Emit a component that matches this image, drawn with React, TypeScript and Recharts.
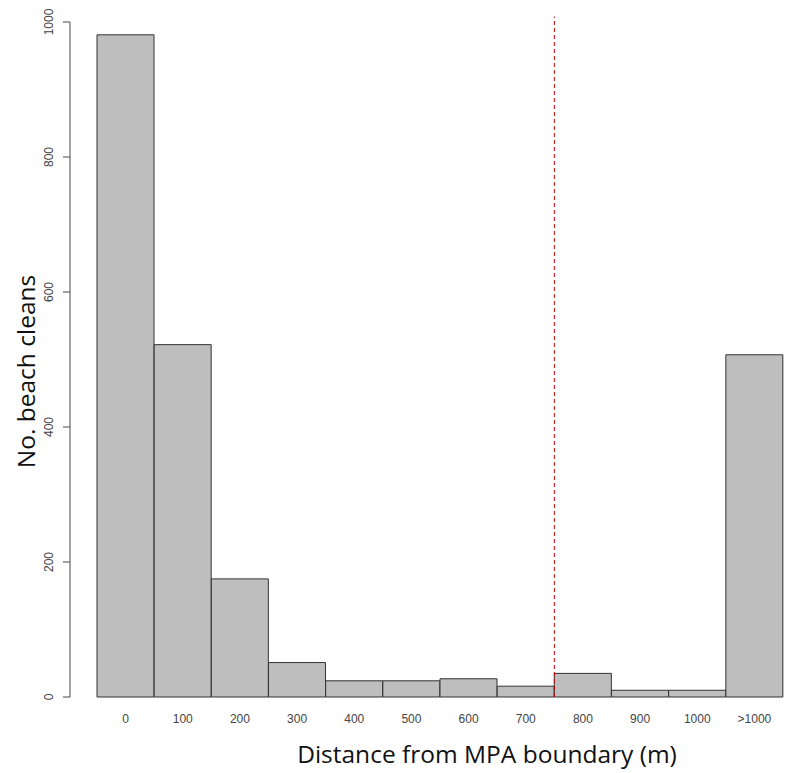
import React from 'react';
import { BarChart, Bar, XAxis, YAxis, ReferenceLine } from 'recharts';

const distanceBins = ['0', '100', '200', '300', '400', '500', '600', '700', '800', '900', '1000', '>1000'];
const beachCleans = [981, 522, 175, 51, 24, 24, 27, 16, 35, 10, 10, 507];
const yTicks = [0, 200, 400, 600, 800, 1000];
const boundaryBin = '800'; // dashed line drawn at the start of this bin
const boundaryLineTop = 1008;

const xTitle = 'Distance from MPA boundary (m)';
const yTitle = 'No. beach cleans';

const data = distanceBins.map((bin, i) => ({ bin, count: beachCleans[i] }));

const TICK_FONT = "'Liberation Sans', Arial, sans-serif";
const TITLE_FONT = "'Open Sans', 'Noto Sans', sans-serif";

const YTick = (props: any) => {
  const { x, y, payload } = props;
  const bx = x - 10;
  return (
    <text
      x={bx}
      y={y}
      transform={`rotate(-90 ${bx} ${y})`}
      textAnchor="middle"
      fontSize={12}
      fill="#444"
      fontFamily={TICK_FONT}
    >
      {payload.value}
    </text>
  );
};

export default function App() {
  return (
    <div style={{ position: 'absolute', left: 0, top: 0, width: 805, height: 773, background: '#fff' }}>
      <BarChart
        width={805}
        height={773}
        data={data}
        margin={{ top: 22, right: 22, bottom: 0, left: 0 }}
        barCategoryGap={0}
        barGap={0}
      >
        <XAxis
          dataKey="bin"
          type="category"
          axisLine={false}
          tickLine={false}
          tickSize={0}
          tickMargin={17}
          height={76}
          padding={{ left: 27, right: 0 }}
          interval={0}
          tick={{ fontSize: 12, fill: '#444', fontFamily: TICK_FONT }}
          label={{
            content: (p: any) => {
              const vb = p.viewBox || {};
              return (
                <text
                  x={vb.x + 417}
                  y={vb.y + 66}
                  textAnchor="middle"
                  fontSize={24.5}
                  fill="#111"
                  fontFamily={TITLE_FONT}
                >
                  {xTitle}
                </text>
              );
            },
          }}
        />
        <YAxis
          type="number"
          domain={[0, 1000]}
          ticks={yTicks}
          width={70}
          tickSize={7}
          tickMargin={0}
          axisLine={{ stroke: '#666', strokeWidth: 1.2 }}
          tickLine={{ stroke: '#666', strokeWidth: 1.2 }}
          tick={<YTick />}
          interval={0}
          label={{
            content: (p: any) => {
              const vb = p.viewBox || {};
              const cx = 35;
              const cy = vb.y + vb.height / 2 + 12;
              return (
                <text
                  x={cx}
                  y={cy}
                  transform={`rotate(-90 ${cx} ${cy})`}
                  textAnchor="middle"
                  fontSize={24.5}
                  fill="#111"
                  fontFamily={TITLE_FONT}
                >
                  {yTitle}
                </text>
              );
            },
          }}
        />
        <Bar dataKey="count" fill="#bebebe" stroke="#333" strokeWidth={1} isAnimationActive={false} />
        <ReferenceLine
          position="start"
          segment={[
            { x: boundaryBin, y: 0 },
            { x: boundaryBin, y: boundaryLineTop },
          ]}
          stroke="#c00000"
          strokeWidth={1}
          strokeDasharray="4 3"
          ifOverflow="visible"
        />
      </BarChart>
    </div>
  );
}
